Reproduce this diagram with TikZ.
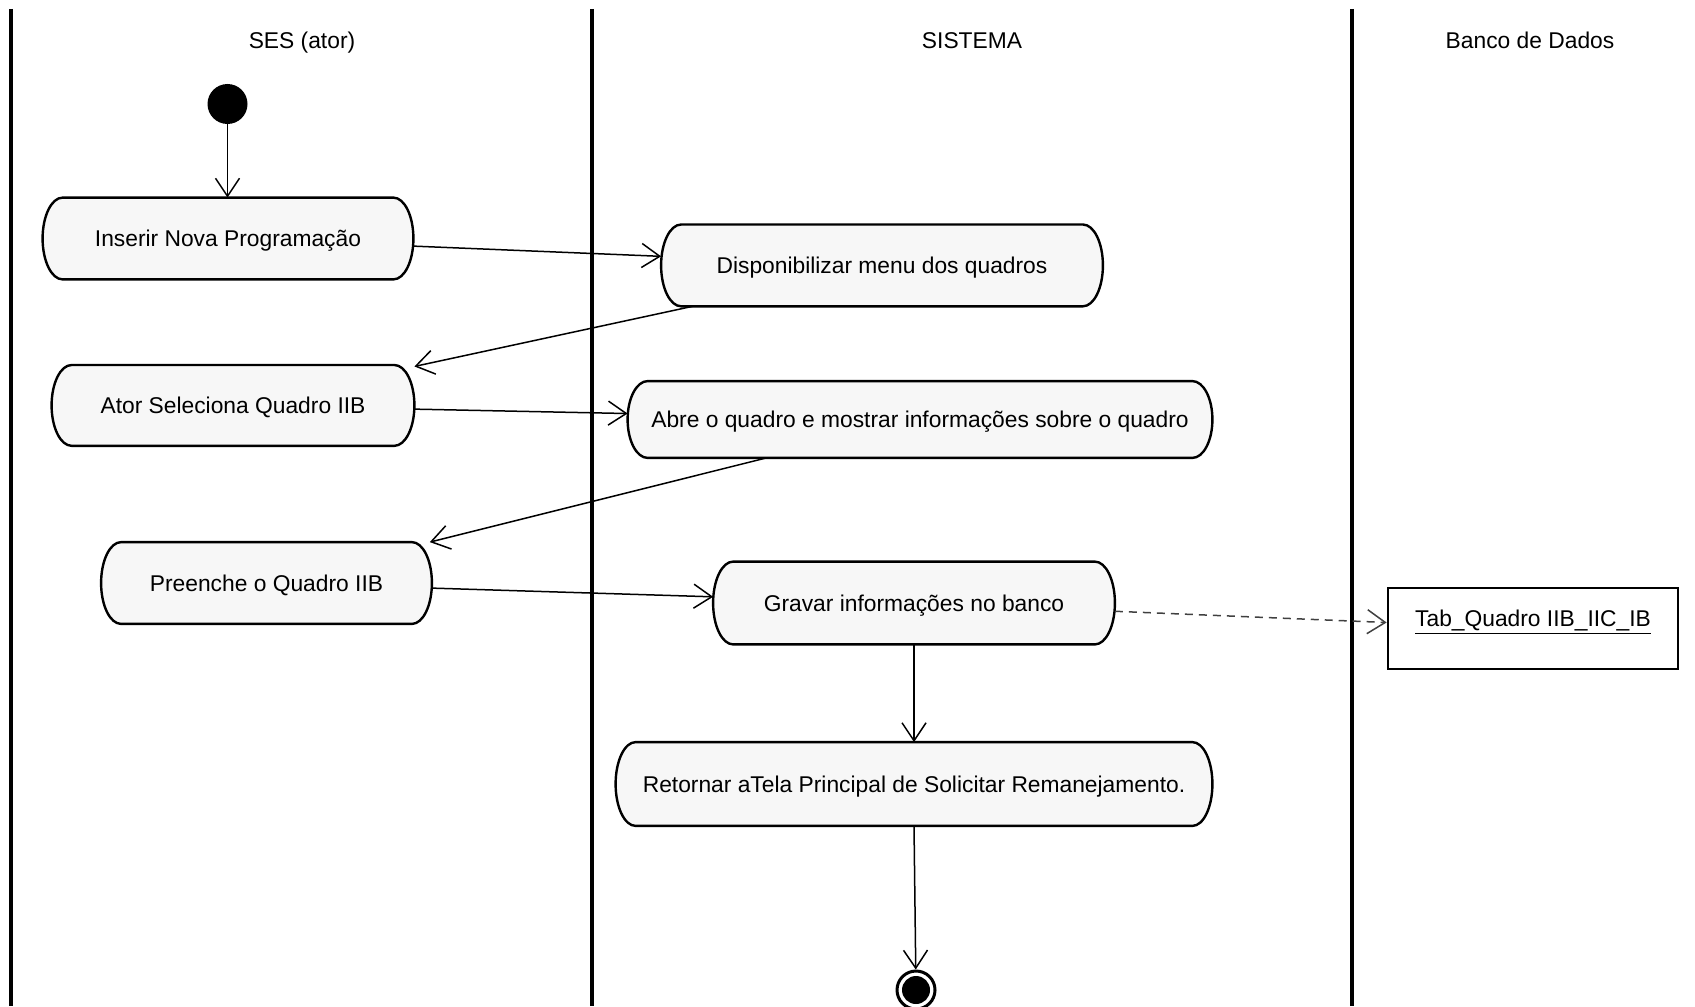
\documentclass[tikz,border=0pt]{standalone}
\usepackage{fontspec}
\setmainfont{Liberation Sans}
\usetikzlibrary{arrows.meta,calc,backgrounds}

% outline of an action node: straight top and bottom, elliptic ends
\newcommand\actionoutline[1]{%
  \draw[actionline] let \p1=(#1.north east), \p2=(#1.south west),
      \n1={(\y1-\y2)/2} in
    ($(#1.north west)+(10pt,0)$) -- ($(#1.north east)+(-10pt,0)$)
    arc[start angle=90, end angle=-90, x radius=10pt, y radius=\n1]
    -- ($(#1.south west)+(10pt,0)$)
    arc[start angle=270, end angle=90, x radius=10pt, y radius=\n1]
    -- cycle;}

\begin{document}
\begin{tikzpicture}[x=0.5pt,y=-0.5pt,
  lane/.style={line width=1.6pt},
  lanetitle/.style={font=\fontsize{11.4}{13}\selectfont, anchor=base},
  activity/.style={rectangle, inner sep=0pt,
    text height=8.2pt, text depth=0pt,
    font=\fontsize{11.4}{13}\selectfont},
  actionline/.style={line width=1.2pt, fill=black!3},
  objbox/.style={rectangle, draw, line width=1.4pt, inner sep=0pt,
    minimum width=145pt, text height=19pt, text depth=21.5pt,
    font=\fontsize{11.4}{13}\selectfont},
  initial/.style={circle, fill=black, inner sep=0pt, minimum size=20pt},
  final/.style={circle, draw, line width=1.5pt, inner sep=0pt, minimum size=19pt,
    path picture={\fill (path picture bounding box.center) circle (7pt);}},
  flow/.style={line width=0.75pt, -{Straight Barb[length=9pt,width=12pt,line width=0.75pt]}},
  dataflow/.style={flow, dashed, dash pattern=on 4pt off 3pt, draw=black!75}
]
\useasboundingbox (0,0) rectangle (1695,1006);

% swimlane separators
\draw[lane] (11,9) -- (11,1006);
\draw[lane] (592,9) -- (592,1006);
\draw[lane] (1352,9) -- (1352,1006);

% swimlane titles
\node[lanetitle] (t1) at (302,48.5) {SES (ator)};
\node[lanetitle] (t2) at (972,48.5) {SISTEMA};
\node[lanetitle] (t3) at (1530,48.5) {Banco de Dados};

% start / end
\node[initial] (start) at (227.5,104) {};
\node[final] (end) at (916,990) {};

% actions
\node[activity, minimum width=185pt, minimum height=40.5pt] (b1) at (228,238.5) {Inserir Nova Programação};
\node[activity, minimum width=220.5pt, minimum height=40.5pt] (b2) at (882,265.4) {Disponibilizar menu dos quadros};
\node[activity, minimum width=181pt, minimum height=40pt] (b3) at (233,405.4) {Ator Seleciona Quadro IIB};
\node[activity, minimum width=292pt, minimum height=38pt] (b4) at (920,419.5) {Abre o quadro e mostrar informações sobre o quadro};
\node[activity, minimum width=165pt, minimum height=40.5pt] (b5) at (266.5,583) {Preenche o Quadro IIB};
\node[activity, minimum width=200.5pt, minimum height=41pt] (b6) at (914,603) {Gravar informações no banco};
\node[activity, minimum width=298pt, minimum height=41.5pt] (b7) at (914,784) {Retornar aTela Principal de Solicitar Remanejamento.};

\begin{scope}[on background layer]
  \actionoutline{b1}
  \actionoutline{b2}
  \actionoutline{b3}
  \actionoutline{b4}
  \actionoutline{b5}
  \actionoutline{b6}
  \actionoutline{b7}
\end{scope}

% data object
\node[objbox] (obj) at (1533,628.5) {\underline{Tab\_Quadro IIB\_IIC\_IB}};

% control flow
\draw[flow] (start) -- (start |- b1.north);
\draw[flow] (b1) -- (b2);
\draw[flow] (b2) -- (b3);
\draw[flow] (b3) -- (b4);
\draw[flow] (b4) -- (b5);
\draw[flow] (b5) -- (b6);
\draw[dataflow] (b6) -- (obj);
\draw[flow] (b6.south) -- (b7.north);
\draw[flow] (b7.south) -- (end);
\end{tikzpicture}
\end{document}
